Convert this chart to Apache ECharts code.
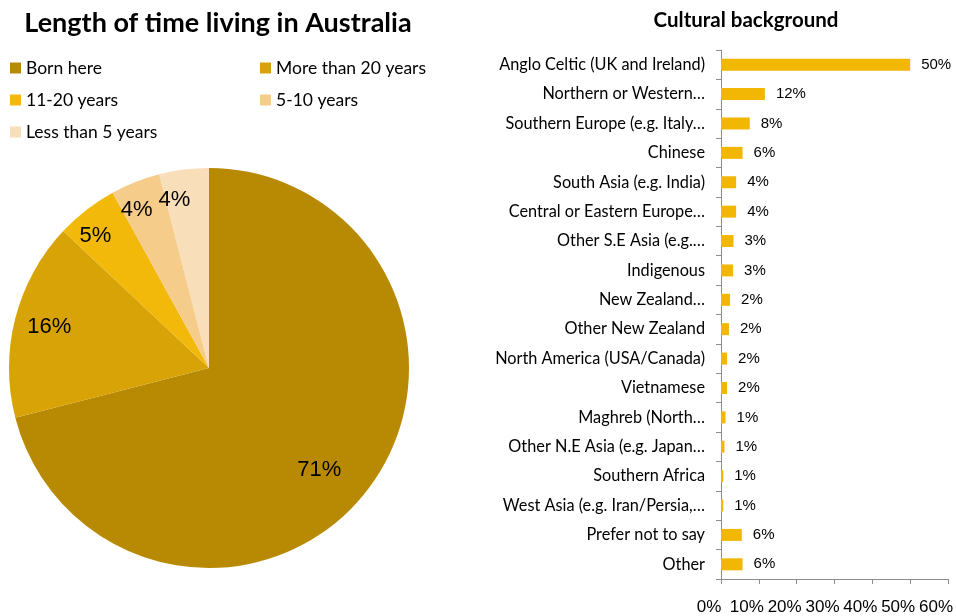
<!DOCTYPE html>
<html>
<head>
<meta charset="utf-8">
<title>Length of time living in Australia / Cultural background</title>
<script src="https://cdn.jsdelivr.net/npm/echarts@6/dist/echarts.min.js"></script>
<style>
  html, body { margin: 0; padding: 0; background: #ffffff; }
  #chart { width: 956px; height: 616px; }
</style>
</head>
<body>
<div id="chart"></div>
<script>
// Length of time living in Australia (percent of respondents)
const timeCategories = ['Born here', 'More than 20 years', '11-20 years', '5-10 years', 'Less than 5 years'];
const timeValues = [71, 16, 5, 4, 4];
const timeColors = ['#B88A04', '#D8A306', '#F2B90B', '#F5CC8A', '#F8DEB9'];

// Cultural background (percent of respondents)
const cultureCategories = [
  'Anglo Celtic (UK and Ireland)',
  'Northern or Western…',
  'Southern Europe (e.g. Italy…',
  'Chinese',
  'South Asia (e.g. India)',
  'Central or Eastern Europe…',
  'Other S.E Asia (e.g.…',
  'Indigenous',
  'New Zealand…',
  'Other New Zealand',
  'North America (USA/Canada)',
  'Vietnamese',
  'Maghreb (North…',
  'Other N.E Asia (e.g. Japan…',
  'Southern Africa',
  'West Asia (e.g. Iran/Persia,…',
  'Prefer not to say',
  'Other'
];
const cultureValues = [50, 11.6, 7.6, 5.7, 4.0, 4.0, 3.3, 3.2, 2.4, 2.1, 1.6, 1.6, 1.2, 0.9, 0.6, 0.6, 5.5, 5.7];
const cultureTicks = [0, 10, 20, 30, 40, 50, 60];

const calibriLike = 'Lato, "Open Sans", sans-serif';
const arialLike = '"Liberation Sans", Arial, sans-serif';

// Pie geometry; each slice label sits at a share of the radius, turned a few degrees
const pieCenter = [209, 368];
const pieRadius = 200;
const labelReach = [0.735, 0.81, 0.855, 0.855, 0.845];
const labelTurnDeg = [5, 0, -3, -3, -4.5];

const total = timeValues.reduce((a, b) => a + b, 0);
let running = 0;
const pieData = timeValues.map((v, i) => {
  const mid = (running + v / 2) / total * Math.PI * 2;
  running += v;
  const target = mid + labelTurnDeg[i] * Math.PI / 180;
  const half = 0.5 * pieRadius;
  const far = labelReach[i] * pieRadius;
  const dx = Math.sin(target) * far - Math.sin(mid) * half;
  const dy = -Math.cos(target) * far + Math.cos(mid) * half;
  return {
    name: timeCategories[i],
    value: v,
    itemStyle: { color: timeColors[i] },
    label: { offset: [dx, dy] }
  };
});

const chart = echarts.init(document.getElementById('chart'), null, { renderer: 'canvas' });

const legendText = { fontFamily: calibriLike, fontSize: 17.5, color: '#000' };
const legendCommon = {
  orient: 'vertical', top: 59, padding: 0,
  itemWidth: 11, itemHeight: 11, itemGap: 14, icon: 'rect',
  textStyle: legendText, selectedMode: false
};

chart.setOption({
  animation: false,
  backgroundColor: '#ffffff',
  title: [
    {
      text: 'Length of time living in Australia',
      left: 213, top: 5, textAlign: 'center',
      textStyle: { fontFamily: calibriLike, fontWeight: 'bold', fontSize: 27, color: '#000' }
    },
    {
      text: 'Cultural background',
      left: 741, top: 5, textAlign: 'center',
      textStyle: { fontFamily: calibriLike, fontWeight: 'bold', fontSize: 20.5, color: '#000' }
    }
  ],
  legend: [
    Object.assign({ data: [timeCategories[0], timeCategories[2], timeCategories[4]], left: 10 }, legendCommon),
    Object.assign({ data: [timeCategories[1], timeCategories[3]], left: 260 }, legendCommon)
  ],
  grid: { left: 721, right: 7, top: 50, bottom: 37, containLabel: false },
  xAxis: {
    type: 'value',
    min: cultureTicks[0],
    max: cultureTicks[cultureTicks.length - 1],
    interval: 10,
    splitLine: { show: false },
    axisLine: { show: true, lineStyle: { color: '#8c8c8c', width: 1 } },
    axisTick: { show: true, length: 5, lineStyle: { color: '#8c8c8c' } },
    axisLabel: {
      fontFamily: arialLike, fontSize: 17, color: '#000', margin: 20,
      padding: [0, 24, 0, 0],
      formatter: v => v + '%'
    }
  },
  yAxis: {
    type: 'category',
    data: cultureCategories,
    inverse: true,
    axisLine: { show: true, lineStyle: { color: '#8c8c8c', width: 1 } },
    axisTick: { show: true, length: 5, lineStyle: { color: '#8c8c8c' } },
    axisLabel: { fontFamily: calibriLike, fontSize: 16.3, color: '#000', margin: 16 }
  },
  series: [
    {
      type: 'pie',
      center: pieCenter,
      radius: pieRadius,
      startAngle: 90,
      clockwise: true,
      avoidLabelOverlap: false,
      silent: true,
      label: {
        show: true,
        position: 'inside',
        fontFamily: arialLike,
        fontSize: 22,
        color: '#000',
        formatter: p => p.value + '%'
      },
      labelLine: { show: false },
      itemStyle: { borderWidth: 0 },
      data: pieData
    },
    {
      type: 'bar',
      data: cultureValues,
      barWidth: 12,
      itemStyle: { color: '#F2B705' },
      label: {
        show: true,
        position: 'right',
        distance: 11,
        fontFamily: arialLike,
        fontSize: 15,
        color: '#000',
        formatter: p => Math.round(p.value) + '%'
      }
    }
  ]
});
</script>
</body>
</html>
